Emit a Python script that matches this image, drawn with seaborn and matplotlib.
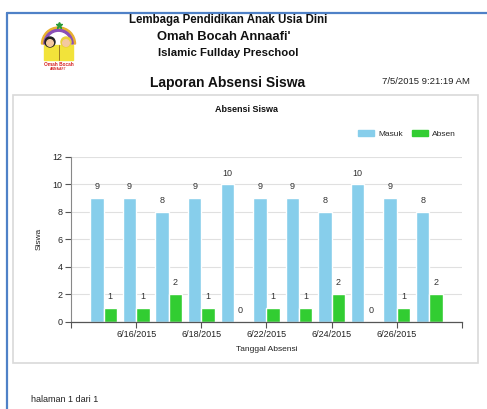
import matplotlib
matplotlib.use("Agg")
import matplotlib.pyplot as plt
import matplotlib.patches as mpatches
from matplotlib.lines import Line2D
import seaborn as sns
import pandas as pd
import numpy as np

# ---- data ----
dates = ["6/15/2015", "6/16/2015", "6/17/2015", "6/18/2015", "6/19/2015", "6/22/2015",
         "6/23/2015", "6/24/2015", "6/25/2015", "6/26/2015", "6/29/2015"]
masuk = [9, 9, 8, 9, 10, 9, 9, 8, 10, 9, 8]
absen = [1, 1, 2, 1, 0, 1, 1, 2, 0, 1, 2]
series_names = ["Masuk", "Absen"]
series_colors = ["#87CEEB", "#32CD32"]
y_ticks = [0, 2, 4, 6, 8, 10, 12]
shown_labels = ["6/16/2015", "6/18/2015", "6/22/2015", "6/24/2015", "6/26/2015"]

df = pd.DataFrame({
    "Tanggal": dates * 2,
    "Jumlah": masuk + absen,
    "Status": [series_names[0]] * len(dates) + [series_names[1]] * len(dates),
})

sns.set_theme(style="white")
plt.rcParams["font.family"] = ["Liberation Sans", "DejaVu Sans"]

W, H = 487, 409
fig = plt.figure(figsize=(W / 100, H / 100), dpi=100)
fig.patch.set_facecolor("white")

def fx(px):
    return px / W

def fy(py):
    return 1 - py / H

# page borders (blue)
fig.add_artist(Line2D([fx(7), fx(7)], [fy(13), fy(409)], color="#4f81c7", lw=1.6))
fig.add_artist(Line2D([fx(7), fx(487)], [fy(13), fy(13)], color="#4f81c7", lw=1.6))

# chart frame
fig.add_artist(mpatches.Rectangle((fx(13), fy(363)), fx(478) - fx(13), fy(95) - fy(363),
                                  fill=False, edgecolor="#d9d9d9", lw=1.2))

# header text
fig.text(fx(228), fy(20), "Lembaga Pendidikan Anak Usia Dini", ha="center", va="center",
         fontsize=8.3, fontweight="bold", color="#111111")
fig.text(fx(224), fy(37), "Omah Bocah Annaafi'", ha="center", va="center",
         fontsize=9.4, fontweight="bold", color="#111111")
fig.text(fx(228), fy(53), "Islamic Fullday Preschool", ha="center", va="center",
         fontsize=8.2, fontweight="bold", color="#111111")
fig.text(fx(228), fy(83), "Laporan Absensi Siswa", ha="center", va="center",
         fontsize=10, fontweight="bold", color="#111111")
fig.text(fx(470), fy(82), "7/5/2015 9:21:19 AM", ha="right", va="center",
         fontsize=6.8, color="#222222")
fig.text(fx(31), fy(399), "halaman 1 dari 1", ha="left", va="center",
         fontsize=6.5, color="#222222")

# logo (simple drawing)
lax = fig.add_axes([fx(35), fy(72), fx(82) - fx(35), fy(22) - fy(72)])
lax.set_xlim(0, 47)
lax.set_ylim(0, 50)
lax.axis("off")
lax.add_patch(mpatches.Wedge((23.5, 28), 17, 0, 180, width=2.4, color="#e8b030"))
lax.add_patch(mpatches.Wedge((23.5, 28), 14.6, 0, 180, width=1.8, color="#8a4fb8"))
lax.plot([23.5], [47], marker="*", color="#2a9a3a", markersize=5)
lax.add_patch(mpatches.Rectangle((9, 12), 29, 15, color="#f2e33a"))
lax.add_patch(mpatches.Circle((15, 30), 5, color="#222222"))
lax.add_patch(mpatches.Circle((31, 30), 5, color="#e8d23a"))
lax.add_patch(mpatches.Circle((15, 29), 3.3, color="#f4c9a0"))
lax.add_patch(mpatches.Circle((31, 29), 3.3, color="#f4c9a0"))
lax.plot([23.5, 23.5], [12, 27], color="#8a6a20", lw=0.6)
lax.text(23.5, 7, "Omah Bocah", ha="center", va="center", fontsize=3.4, color="#d42020",
         fontweight="bold")
lax.text(23.5, 2.5, "ANNAAFI'", ha="center", va="center", fontsize=2.4, color="#d42020",
         fontweight="bold")

# chart title
fig.text(fx(246), fy(110), "Absensi Siswa", ha="center", va="center",
         fontsize=6.5, fontweight="bold", color="#111111")

# main axes
ax = fig.add_axes([fx(71), fy(321.7), fx(462) - fx(71), fy(157) - fy(321.7)])
sns.barplot(data=df, x="Tanggal", y="Jumlah", hue="Status", order=dates,
            hue_order=series_names, palette=series_colors, width=0.82,
            saturation=1, ax=ax, legend=False, errorbar=None)

for cont in ax.containers:
    ax.bar_label(cont, padding=5, fontsize=6.5, color="#333333")

ax.set_xlim(-1, len(dates))
ax.set_ylim(0, 12)
ax.set_yticks(y_ticks)
ax.set_yticklabels([str(t) for t in y_ticks], fontsize=6.5, color="#222222")
tick_pos = [dates.index(d) for d in shown_labels]
ax.set_xticks(tick_pos)
ax.set_xticklabels(shown_labels, fontsize=6.5, color="#222222")
ax.set_xticks([-1, len(dates)], minor=True)
ax.tick_params(axis="x", which="both", direction="out", length=4, width=0.8,
               color="#555555", bottom=True, pad=2)
ax.tick_params(axis="y", direction="out", length=4, width=0.8, color="#555555",
               left=True, pad=2)
ax.yaxis.grid(True, color="#e0e0e0", lw=0.8)
ax.set_axisbelow(True)
for s in ["top", "right"]:
    ax.spines[s].set_visible(False)
ax.spines["left"].set_color("#888888")
ax.spines["left"].set_linewidth(0.8)
ax.spines["bottom"].set_color("#555555")
ax.spines["bottom"].set_linewidth(0.9)
ax.set_xlabel("Tanggal Absensi", fontsize=6, color="#222222", labelpad=5)
ax.set_ylabel("Siswa", fontsize=6, color="#222222", labelpad=7)

# legend
handles = [mpatches.Patch(color=c, label=n) for n, c in zip(series_names, series_colors)]
fig.legend(handles=handles, loc="center", bbox_to_anchor=(fx(407), fy(134)), ncol=2,
           frameon=False, fontsize=6, handlelength=1.9, handleheight=0.8,
           handletextpad=0.5, columnspacing=1.1)

fig.savefig("out.png", dpi=100)
